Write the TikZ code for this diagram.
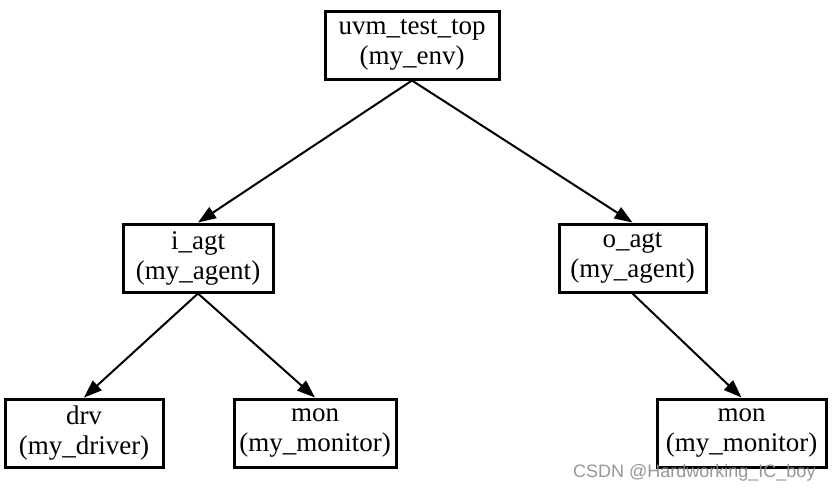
\documentclass[tikz,border=0pt]{standalone}
\usepackage{fontspec}
\setmainfont{Liberation Serif}
\newfontfamily\wmfont{Liberation Sans}
\usetikzlibrary{arrows.meta}
\begin{document}
\begin{tikzpicture}[x=1pt,y=-1pt,
  box/.style={draw=black,line width=3pt,fill=white,inner sep=0pt,minimum height=68pt,align=center,
    font=\fontsize{27}{30}\selectfont},
  edge/.style={draw=black,line width=2pt,-{Triangle[length=18pt,width=13pt]}}]
\useasboundingbox (0,0) rectangle (836,491);
\fill[white] (0,0) rectangle (836,491);
\node[box,minimum width=174pt] (top) at (412,45) {uvm\_test\_top\\(my\_env)};
\node[box,minimum width=150pt] (iagt) at (198,258) {i\_agt\\(my\_agent)};
\node[box,minimum width=147pt] (oagt) at (632.5,258) {o\_agt\\(my\_agent)};
\node[box,minimum width=158pt] (drv) at (84,433) {drv\\(my\_driver)};
\node[box,minimum width=162pt] (mon) at (315,433) {mon\\(my\_monitor)};
\node[box,minimum width=169pt] (mon2) at (741.5,433) {mon\\(my\_monitor)};
\draw[edge] (top.south) -- (iagt.north);
\draw[edge] (top.south) -- (oagt.north);
\draw[edge] (iagt.south) -- (drv.north);
\draw[edge] (iagt.south) -- (mon.north);
\draw[edge] (oagt.south) -- (mon2.north);
\node[anchor=base west,inner sep=0pt,text=black!45,font=\wmfont\fontsize{18}{20}\selectfont,opacity=0.9] (wm) at (573,477) {CSDN @Hardworking\_IC\_boy};
\end{tikzpicture}
\end{document}
